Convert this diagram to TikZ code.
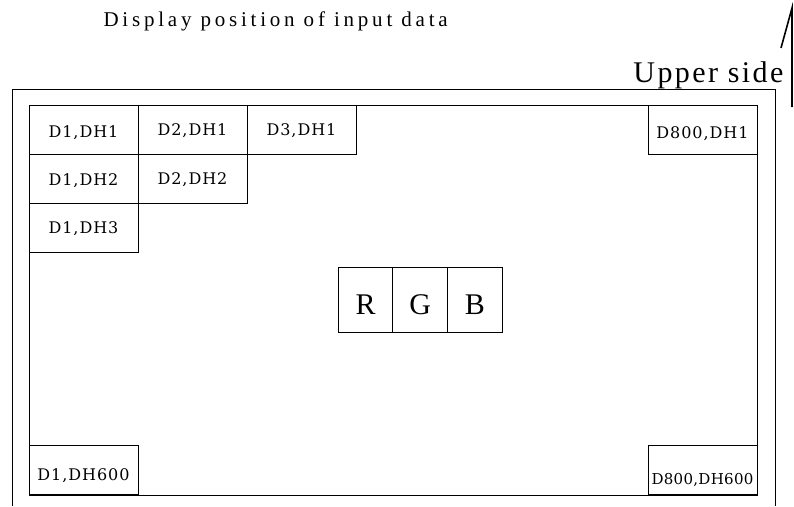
\documentclass[tikz,border=0pt]{standalone}
\usepackage{fontspec}
\setmainfont{Liberation Serif}
\newfontfamily\cellfont[LetterSpace=6]{DejaVu Serif}
\newfontfamily\tightcellfont[LetterSpace=2]{DejaVu Serif}
\newfontfamily\titlefont[LetterSpace=18]{Liberation Serif}
\newfontfamily\sidefont[LetterSpace=8]{Liberation Serif}
\usetikzlibrary{positioning}

\tikzset{
  cell/.style={draw, line width=0.8pt, outer sep=0pt, inner sep=0pt,
    minimum width=109pt, minimum height=49pt, text depth=0pt,
    font={\cellfont\fontsize{16}{18}\selectfont}},
  tightcell/.style={cell, font={\tightcellfont\fontsize{15}{17}\selectfont}},
  lowtext/.style={text height=#1},
  rgbcell/.style={draw, line width=0.8pt, outer sep=0pt, inner sep=0pt,
    minimum width=54.7pt, minimum height=65pt, text depth=0pt, text height=29pt,
    font={\fontsize{30}{30}\selectfont}}
}

\begin{document}
\begin{tikzpicture}[x=1pt,y=-1pt]
\useasboundingbox (0,0) rectangle (794,506);

\node[anchor=base west,font={\titlefont\fontsize{21}{23}\selectfont}] (title) at (100,27) {Display position of input data};
\node[anchor=base east,font={\sidefont\fontsize{30}{32}\selectfont}] (upper) at (787,82) {Upper side};

\coordinate (arrowfoot) at (792,107);
\coordinate (arrowtip) at (792,8);
\coordinate (arrowbarb) at (781,48);
\draw[line width=1.6pt] (arrowfoot) -- (arrowtip) -- (arrowbarb);

\draw[line width=1pt] (12,506) -- (12,89) -- (775,89) -- (775,506);
\draw[line width=0.8pt] (29,105) rectangle (757,495);

\node[cell, lowtext=16pt] (d1h1) at (83.5,129.5) {D1,DH1};
\node[cell, right=0pt of d1h1] (d2h1) {D2,DH1};
\node[cell, right=0pt of d2h1] (d3h1) {D3,DH1};
\node[cell, below=0pt of d1h1, lowtext=14pt] (d1h2) {D1,DH2};
\node[cell, right=0pt of d1h2] (d2h2) {D2,DH2};
\node[cell, below=0pt of d1h2] (d1h3) {D1,DH3};
\node[cell, lowtext=18pt] (d800h1) at (702.5,129.5) {D800,DH1};
\node[cell, lowtext=20pt] (d1h600) at (83.5,470) {D1,DH600};
\node[tightcell, lowtext=28pt] (d800h600) at (702.5,470) {D800,DH600};

\node[rgbcell] (r) at (365.5,299.5) {R};
\node[rgbcell, right=0pt of r] (g) {G};
\node[rgbcell, right=0pt of g] (b) {B};
\end{tikzpicture}
\end{document}
